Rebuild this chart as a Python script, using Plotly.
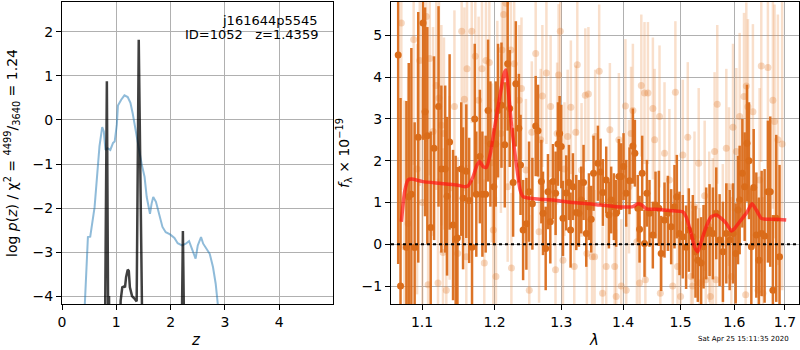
import plotly.graph_objects as go
import math

# ---------------- left panel: p(z) ----------------
pz_blue_z = [0.416, 0.477, 0.52, 0.60, 0.69, 0.74, 0.77, 0.80, 0.84, 0.89, 0.94, 0.97, 1.01, 1.03,
             1.09, 1.15, 1.21, 1.26, 1.30, 1.36, 1.43, 1.47, 1.52, 1.56, 1.62, 1.65, 1.68, 1.73,
             1.79, 1.85, 1.91, 1.99, 2.07, 2.13, 2.21, 2.28, 2.34, 2.39, 2.46, 2.50, 2.56, 2.60,
             2.66, 2.72, 2.78, 2.83, 2.87, 2.90]
pz_blue_y = [-4.3, -2.66, -2.65, -1.98, -0.60, -0.16, -0.26, -0.68, -0.64, -0.68, -0.52, -0.49, -0.10, 0.33,
             0.46, 0.56, 0.52, 0.39, 0.16, -0.30, -0.75, -1.02, -1.29, -1.75, -2.13, -1.90, -1.75, -1.86,
             -2.13, -2.43, -2.55, -2.60, -2.68, -2.80, -2.85, -2.81, -2.75, -2.92, -3.15, -2.85, -2.66, -2.81,
             -2.92, -3.04, -3.34, -3.72, -4.2, -4.6]

pz_dark_z = [0.785, 0.826, 0.852, 0.866, 0.878, None,
             1.04, 1.08, 1.11, 1.14, 1.16, 1.18, 1.21, 1.23, 1.25, 1.29, 1.33, 1.375, 1.413, 1.475, 1.49, None,
             2.195, 2.226, 2.26]
pz_dark_y = [-6.0, 0.88, -5.0, -4.0, -6.0, None,
             -6.0, -4.1, -3.8, -3.78, -3.8, -3.57, -3.40, -3.43, -3.8, -4.0, -4.05, -4.12, 1.82, -4.3, -6.0, None,
             -6.0, -2.52, -6.0]

# ---------------- right panel: spectrum ----------------
spec_wave = [1.069, 1.072, 1.0796, 1.0826, 1.086, 1.0903, 1.095, 1.1013, 1.104, 1.107, 1.1115, 1.116, 1.122,
             1.1258, 1.131, 1.1335, 1.137, 1.1417, 1.1453, 1.1476, 1.153, 1.1555, 1.16, 1.164, 1.168, 1.1718,
             1.174, 1.179, 1.1826, 1.1873, 1.1907, 1.194, 1.199, 1.2017, 1.205, 1.21, 1.2148, 1.219, 1.222,
             1.227, 1.231, 1.2355, 1.238, 1.2418, 1.2467, 1.2507, 1.2557, 1.2607, 1.2642, 1.2693, 1.2718,
             1.2759, 1.2794, 1.283, 1.2871, 1.2912, 1.2948, 1.2974, 1.30, 1.3026, 1.3078, 1.312, 1.3146,
             1.3183, 1.3236, 1.3278, 1.3315, 1.3352, 1.3395, 1.3438, 1.3475, 1.3513, 1.3584, 1.3627, 1.3665,
             1.372, 1.3764, 1.3802, 1.3847, 1.3885, 1.393, 1.3969, 1.4008, 1.4053, 1.4109, 1.4166, 1.42,
             1.4251, 1.428, 1.4325, 1.4365, 1.4406, 1.4451, 1.4509, 1.4556, 1.4614, 1.4655, 1.4714, 1.4773,
             1.4832, 1.4891, 1.4933, 1.498, 1.504, 1.51, 1.5149, 1.5222, 1.5271, 1.5314, 1.5375, 1.5419,
             1.5468, 1.5531, 1.5593, 1.5656, 1.5719, 1.5782, 1.5846, 1.591, 1.5974, 1.6025, 1.607, 1.6102,
             1.6154, 1.6199, 1.6244, 1.6283, 1.6329, 1.6375, 1.6427, 1.6479, 1.6532, 1.6591, 1.6657, 1.6704,
             1.6757, 1.6824, 1.6891]
spec_flux = [4.53, -1.0, -0.07, 1.14, 1.2, -0.08, 2.56, 5.3, 3.17, 2.6, 0.4, 2.3, 3.3,
             1.8, 1.8, 1.15, 2.45, 0.46, 0.12, 0.15, 1.8, 1.1, 1.75, 1.05, -0.07, 3.0,
             1.2, 2.1, 1.2, 1.2, 3.2, 2.4, 1.38, 2.4, 3.2, 3.33, 2.38, 4.32, 3.25,
             1.48, 3.84, 2.78, 1.9, 0.34, 0.49, 1.26, 0.97, 2.83, 2.72, 1.5, 0.74,
             -0.1, 1.26, 0.54, 1.5, 1.22, 2.4, 2.65, 2.34, 0.62, 1.23, 1.48, 0.34,
             1.38, 0.76, 0.74, 1.06, 1.48, 0.26, 0.9, 0.6, 1.7, 1.94, 1.73, 1.24,
             1.54, 0.7, 1.06, 0.9, 0.74, 1.62, 1.62, 1.86, 1.22, 1.52, 2.35, 2.18,
             0.86, 0.36, 1.7, 0.02, 1.22, 0.74, 0.22, 0.94, 0.86, -0.22, 0.58, 0.74,
             0.42, 0.9, 1.14, 0.26, 0.18, -0.07, 0.34, 0.18, -0.18, -0.38, -0.45, -0.06,
             0.26, 0.34, 0.26, 0.74, 0.1, -0.18, 0.26, 0.1, 0.26, -0.22, 0.82, 1.06,
             1.7, 1.38, 2.42, 2.0, -0.06, 1.36, 0.22, -0.38, 0.26, 0.2, 1.26, 1.26,
             -1.1, 0.62, -0.3]
spec_err = [5.0, 4.5, 3.5, 3.2, 3.5, 3.0, 3.0, 2.8, 2.5, 2.6, 2.3, 2.2, 2.4,
            2.0, 2.0, 1.9, 2.1, 1.8, 2.0, 1.7, 1.6, 1.7, 1.6, 1.5, 1.6, 1.8,
            1.5, 1.6, 1.5, 1.4, 1.7, 1.5, 1.4, 1.5, 1.6, 1.5, 1.5, 1.6, 1.4,
            1.3, 1.5, 1.3, 1.2, 1.2, 1.1, 1.2, 1.1, 1.2, 1.1, 1.0, 1.0,
            1.0, 0.9, 1.0, 0.9, 1.0, 1.0, 0.9, 1.0, 0.9, 0.9, 0.9, 0.9,
            0.8, 0.9, 0.8, 0.8, 0.9, 0.8, 0.8, 0.8, 0.9, 0.9, 0.8, 0.8,
            0.8, 0.8, 0.8, 0.8, 0.8, 0.9, 0.8, 0.8, 0.8, 0.8, 0.9, 0.8,
            0.8, 0.8, 0.9, 0.8, 0.8, 0.8, 0.8, 0.8, 0.9, 0.9, 0.9, 0.9,
            0.9, 1.0, 1.0, 1.0, 1.0, 1.0, 1.0, 1.0, 1.1, 1.0, 1.1, 1.0,
            1.1, 1.1, 1.1, 1.1, 1.1, 1.2, 1.2, 1.2, 1.2, 1.2, 1.3, 1.3,
            1.3, 1.3, 1.4, 1.4, 1.4, 1.4, 1.5, 1.5, 1.5, 1.6, 1.7, 1.8,
            1.8, 2.0, 2.2]

faint_wave = [1.073, 1.077, 1.0817, 1.089, 1.0935, 1.097, 1.1004, 1.1057, 1.108, 1.1102, 1.1146, 1.119,
              1.1213, 1.1226, 1.1258, 1.128, 1.1293, 1.1325, 1.137, 1.1436, 1.1481, 1.1536, 1.1573, 1.16,
              1.161, 1.1676, 1.1726, 1.1773, 1.182, 1.1853, 1.1877, 1.1925, 1.1963, 1.1982, 1.202, 1.204,
              1.2092, 1.2107, 1.2131, 1.2165, 1.219, 1.2237, 1.2245, 1.2286, 1.236, 1.2394, 1.246, 1.251,
              1.2548, 1.2607, 1.2658, 1.2683, 1.2708, 1.277, 1.2835, 1.291, 1.2935, 1.2958, 1.2984, 1.3026,
              1.305, 1.31, 1.315, 1.3204, 1.3228, 1.3252, 1.332, 1.338, 1.3405, 1.343, 1.349, 1.353, 1.354,
              1.3605, 1.366, 1.372, 1.378, 1.386, 1.3885, 1.393, 1.397, 1.404, 1.4053, 1.41, 1.4135, 1.4166,
              1.4234, 1.428, 1.431, 1.4365, 1.438, 1.4424, 1.451, 1.454, 1.4626, 1.464, 1.4714, 1.48, 1.486,
              1.4907, 1.4945, 1.50, 1.504, 1.513, 1.519, 1.522, 1.5253, 1.533, 1.5345, 1.544, 1.546, 1.5525,
              1.5545, 1.559, 1.5625, 1.565, 1.5675, 1.578, 1.5846, 1.5897, 1.5942, 1.5974, 1.6038, 1.6102,
              1.6186, 1.6218, 1.6231, 1.6263, 1.636, 1.646, 1.6492, 1.6525, 1.6558, 1.6657, 1.6757, 1.679,
              1.6857, 1.6944]
faint_flux = [5.3, -0.06, 0.5, 4.9, 1.8, 4.4, 1.0, 5.45, -0.97, 4.45, 2.7, 3.8,
              -0.93, 3.5, 2.85, -0.2, 2.65, -1.1, 1.35, 3.3, -0.22, 5.1, 3.47, -0.3,
              4.2, 5.1, 4.5, 3.45, 4.2, -0.45, 4.4, 4.35, 1.95, 0.34, -0.77, 3.45,
              2.65, 4.65, 5.5, 5.77, 1.38, 4.65, -0.57, 4.32, 3.45, 3.73, 1.78, -1.1,
              2.68, 4.57, 0.3, 2.5, 3.55, 4.1, 3.3, -0.61, 2.65, 4.05, 5.1, -0.38,
              1.8, 2.58, 3.28, -0.53, 2.68, 4.3, 1.78, 3.57, -0.22, 3.6, -0.3, -0.3, 2.58,
              4.14, -1.17, -0.53, 2.74, -0.53, -1.25, 2.5, -1.0, 3.31, -1.1, 1.38, 2.65, 3.2,
              0.06, -0.93, 3.8, 3.62, -0.85, 3.62, 3.25, 2.5, 3.06, -1.17, 2.18, 1.54, -1.0,
              3.64, -0.53, -1.25, 2.14, 2.56, -0.77, -1.0, 0.9, 1.94, -0.93, 1.16, -0.85, 0.42,
              -1.25, 0.26, 2.22, -0.85, 3.35, 0.02, 2.3, 1.38, -0.77, 2.8, 2.22, 3.06,
              3.54, -1.21, 3.79, 3.29, 3.17, -1.1, 1.54, 4.27, -1.17, 4.23, 3.45, 2.94,
              2.5, 2.4]
faint_err = [4.0, 3.5, 3.5, 3.0, 3.0, 3.0, 3.0, 3.0, 3.0, 2.8, 2.5, 2.5,
             2.5, 2.5, 2.4, 2.5, 2.3, 2.5, 2.2, 2.3, 2.3, 2.3, 2.2, 2.2,
             2.2, 2.2, 2.1, 2.0, 2.1, 2.0, 2.0, 2.0, 1.9, 1.9, 1.9, 1.9,
             1.9, 1.9, 1.8, 1.8, 1.8, 1.8, 1.8, 1.8, 1.8, 1.7, 1.7, 1.8,
             1.7, 1.7, 1.7, 1.7, 1.7, 1.7, 1.7, 1.7, 1.7, 1.7, 1.7, 1.7,
             1.6, 1.6, 1.6, 1.6, 1.6, 1.7, 1.6, 1.6, 1.6, 1.6, 1.6, 1.6, 1.6,
             1.6, 1.6, 1.6, 1.6, 1.6, 1.6, 1.6, 1.6, 1.6, 1.6, 1.6, 1.6, 1.6,
             1.6, 1.6, 1.7, 1.7, 1.7, 1.7, 1.7, 1.7, 1.7, 1.7, 1.7, 1.7, 1.7,
             1.7, 1.7, 1.8, 1.8, 1.8, 1.8, 1.8, 1.8, 1.8, 1.8, 1.8, 1.8, 1.8,
             1.8, 1.8, 1.9, 1.9, 1.9, 1.9, 1.9, 1.9, 1.9, 2.0, 2.0, 2.0,
             2.0, 2.0, 2.0, 2.1, 2.1, 2.2, 2.2, 2.3, 2.3, 2.4, 2.6, 2.8,
             3.0, 3.5]

model_wave = [1.073, 1.0773, 1.0817, 1.086, 1.1013, 1.1236, 1.1463, 1.1578, 1.1625, 1.1695, 1.1751, 1.179,
              1.1835, 1.1883, 1.194, 1.2003, 1.2076, 1.2139, 1.2164, 1.2199, 1.2248, 1.231, 1.2374, 1.2418,
              1.2517, 1.2668, 1.2923, 1.3183, 1.345, 1.3611, 1.372, 1.3885, 1.4053, 1.4166, 1.4251, 1.4309,
              1.4394, 1.4568, 1.4862, 1.504, 1.51, 1.5192, 1.5253, 1.5314, 1.5375, 1.5468, 1.5562, 1.5656,
              1.575, 1.5846, 1.5942, 1.6006, 1.6102, 1.6231, 1.6342, 1.6427, 1.6525, 1.6624, 1.6824, 1.7027]
model_flux = [0.54, 1.26, 1.54, 1.56, 1.5, 1.46, 1.42, 1.38, 1.40, 1.62, 1.9, 1.98,
              1.86, 1.84, 2.18, 2.82, 3.54, 4.09, 4.17, 3.7, 2.82, 2.02, 1.3, 1.14,
              1.1, 1.08, 1.05, 1.0, 0.97, 0.94, 0.93, 0.9, 0.89, 0.90, 0.97, 0.95,
              0.85, 0.84, 0.8, 0.78, 0.66, 0.26, -0.06, -0.18, 0.06, 0.42, 0.66, 0.7,
              0.62, 0.5, 0.32, 0.38, 0.54, 0.74, 0.97, 0.82, 0.62, 0.6, 0.6, 0.58]

DARK = "rgb(218,108,26)"
LIGHT_BAR = "rgba(232,140,70,0.28)"
LIGHT_MK = "rgba(225,125,50,0.30)"
FONT = "DejaVu Sans"

fig = go.Figure()

# left panel
fig.add_trace(go.Scatter(x=pz_blue_z, y=pz_blue_y, mode="lines",
                         line=dict(color="rgba(31,119,180,0.5)", width=2), xaxis="x", yaxis="y",
                         showlegend=False, hoverinfo="skip"))
fig.add_trace(go.Scatter(x=pz_dark_z, y=pz_dark_y, mode="lines",
                         line=dict(color="rgba(0,0,0,0.75)", width=2.5), xaxis="x", yaxis="y",
                         showlegend=False, hoverinfo="skip", connectgaps=False))

# right panel
fig.add_trace(go.Scatter(x=faint_wave, y=faint_flux, mode="markers",
                         marker=dict(color=LIGHT_MK, size=7, line=dict(width=0)),
                         error_y=dict(type="data", array=faint_err, color=LIGHT_BAR, thickness=2.5, width=0),
                         xaxis="x2", yaxis="y2", showlegend=False, hoverinfo="skip"))
fig.add_trace(go.Scatter(x=spec_wave, y=spec_flux, mode="markers",
                         marker=dict(color=DARK, size=7, line=dict(width=0)),
                         error_y=dict(type="data", array=spec_err, color="rgba(218,108,26,0.95)", thickness=2.5, width=0),
                         xaxis="x2", yaxis="y2", showlegend=False, hoverinfo="skip"))
fig.add_trace(go.Scatter(x=[1.0598, 1.729], y=[0, 0], mode="lines",
                         line=dict(color="black", width=2, dash="dot"),
                         xaxis="x2", yaxis="y2", showlegend=False, hoverinfo="skip"))
fig.add_trace(go.Scatter(x=model_wave, y=model_flux, mode="lines",
                         line=dict(color="rgba(255,20,20,0.7)", width=3.5, shape="spline", smoothing=0.5),
                         xaxis="x2", yaxis="y2", showlegend=False, hoverinfo="skip"))

ydom = [46 / 350, 348 / 350]
axis_common = dict(showline=True, mirror=True, linecolor="black", linewidth=1,
                   ticks="outside", ticklen=5, tickcolor="black", tickwidth=1,
                   showgrid=True, gridcolor="#b0b0b0", gridwidth=1, zeroline=False,
                   automargin=False,
                   tickfont=dict(family=FONT, size=14, color="black"))

fig.update_layout(
    width=800, height=350,
    margin=dict(l=0, r=0, t=0, b=0, autoexpand=False),
    paper_bgcolor="white", plot_bgcolor="white",
    font=dict(family=FONT, size=14, color="black"),
    xaxis=dict(domain=[62 / 800, 333 / 800], range=[0, 4.99], tickvals=[0, 1, 2, 3, 4],
               anchor="y", **axis_common),
    yaxis=dict(domain=ydom, range=[-4.18, 2.68], tickvals=[-4, -3, -2, -1, 0, 1, 2],
               ticktext=["\u22124", "\u22123", "\u22122", "\u22121", "0", "1", "2"],
               anchor="x", **axis_common),
    xaxis2=dict(domain=[391 / 800, 799 / 800], type="log",
                range=[math.log10(1.0598), math.log10(1.729)],
                tickvals=[1.1, 1.2, 1.3, 1.4, 1.5, 1.6, 1.7],
                ticktext=["1.1", "1.2", "1.3", "1.4", "1.5", "1.6", "1.7"],
                anchor="y2", **axis_common),
    yaxis2=dict(domain=ydom, range=[-1.43, 5.8], tickvals=[-1, 0, 1, 2, 3, 4, 5],
                ticktext=["\u22121", "0", "1", "2", "3", "4", "5"],
                anchor="x2", **axis_common),
)

def px(x, y):
    return dict(x=x / 800, y=1 - y / 350, xref="paper", yref="paper")

ann = [
    dict(text="j161644p5545", xanchor="right", yanchor="middle", font=dict(size=13), **px(320, 20)),
    dict(text="ID=1052\u00a0\u00a0\u00a0z=1.4359", xanchor="right", yanchor="middle", font=dict(size=13), **px(320, 35)),
    dict(text="log <i>p</i>(<i>z</i>) / χ<sup>2</sup> = <sup>4499</sup>/<sub>3640</sub> = 1.24",
         textangle=-90, xanchor="center", yanchor="middle", font=dict(size=14), **px(12, 153)),
    dict(text="<i>z</i>", xanchor="center", yanchor="middle", font=dict(size=15), **px(196, 340)),
    dict(text="<i>f</i><sub>λ</sub> × 10<sup>−19</sup>", textangle=-90, xanchor="center",
         yanchor="middle", font=dict(size=14), **px(344, 153)),
    dict(text="<i>λ</i>", xanchor="center", yanchor="middle", font=dict(size=15), **px(594, 340)),
    dict(text="Sat Apr 25 15:11:35 2020", xanchor="center", yanchor="middle", font=dict(size=7), **px(743, 339)),
]
for a in ann:
    a["showarrow"] = False
fig.update_layout(annotations=ann)

fig.write_html("out.html", config={"displayModeBar": False},
               post_script="document.body.style.margin='0';document.body.style.padding='0';"
                           "document.body.style.overflow='hidden';")
